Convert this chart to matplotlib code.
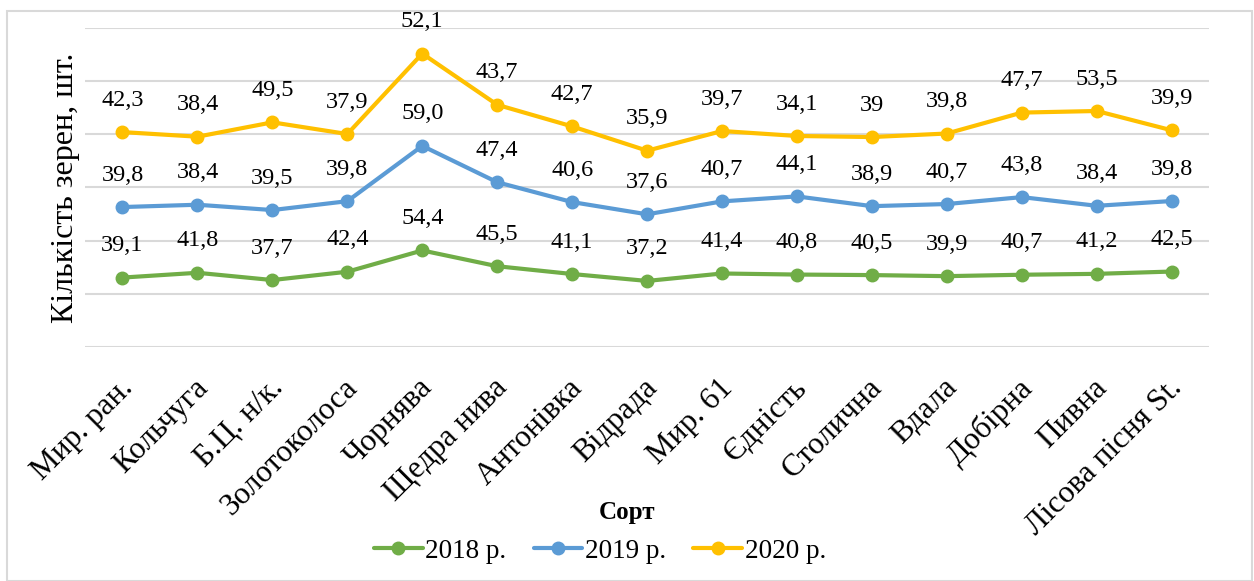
import numpy as np
import matplotlib.pyplot as plt
import matplotlib.transforms as mtransforms
from matplotlib.patches import Rectangle

plt.rcParams['font.family'] = ['Liberation Serif', 'DejaVu Serif']

# varieties (x axis categories)
sorts = ['Мир. ран.', 'Кольчуга', 'Б.Ц. н/к.', 'Золотоколоса', 'Чорнява',
         'Щедра нива', 'Антонівка', 'Відрада', 'Мир. 61', 'Єдність',
         'Столична', 'Вдала', 'Добірна', 'Пивна', 'Лісова пісня St.']

# grains per ear, by year (stacked line chart as in the source)
y2018 = [39.1, 41.8, 37.7, 42.4, 54.4, 45.5, 41.1, 37.2, 41.4, 40.8, 40.5, 39.9, 40.7, 41.2, 42.5]
y2019 = [39.8, 38.4, 39.5, 39.8, 59.0, 47.4, 40.6, 37.6, 40.7, 44.1, 38.9, 40.7, 43.8, 38.4, 39.8]
y2020 = [42.3, 38.4, 49.5, 37.9, 52.1, 43.7, 42.7, 35.9, 39.7, 34.1, 39.0, 39.8, 47.7, 53.5, 39.9]
lab2020 = ['42,3', '38,4', '49,5', '37,9', '52,1', '43,7', '42,7', '35,9', '39,7', '34,1',
           '39', '39,8', '47,7', '53,5', '39,9']

series = [('2018 р.', y2018, '#70AD47'),
          ('2019 р.', y2019, '#5B9BD5'),
          ('2020 р.', y2020, '#FFC000')]

fig = plt.figure(figsize=(12.54, 5.81), dpi=100)
ax = fig.add_axes([0.0678, 0.403, 0.8965, 0.549])

x = np.arange(len(sorts))
base = np.zeros(len(sorts))
for name, vals, col in series:
    cum = base + np.array(vals)
    ax.plot(x, cum, color=col, lw=3, marker='o', ms=9, label=name,
            solid_capstyle='round', zorder=3)
    for i, v in enumerate(vals):
        if name == '2020 р.':
            txt = lab2020[i]
        else:
            txt = ('%.1f' % v).replace('.', ',')
        ax.annotate(txt, (x[i], cum[i]), xytext=(0, 23), textcoords='offset points',
                    ha='center', va='center', fontsize=17.5)
    base = cum

ax.set_xlim(-0.5, len(sorts) - 0.5)
ax.set_ylim(0, 180)
ax.set_yticks(np.arange(0, 181, 30))
ax.set_yticklabels([])
ax.yaxis.grid(True, color='#D9D9D9', lw=1.5)
ax.set_axisbelow(True)
for s in ax.spines.values():
    s.set_visible(False)
ax.tick_params(axis='both', length=0)
ax.set_xticks(x)
ax.set_xticklabels(sorts, rotation=45, ha='right', va='top', rotation_mode='anchor',
                   fontsize=22.5)
ax.tick_params(axis='x', pad=19)
shift = mtransforms.ScaledTranslation(-4 / 100, 0, fig.dpi_scale_trans)
for lbl in ax.get_xticklabels():
    lbl.set_transform(lbl.get_transform() + shift)

ax.set_ylabel('Кількість зерен, шт.', fontsize=23, labelpad=0)
fig.text(0.5, 1 - 512 / 581, 'Сорт', ha='center', va='center', fontsize=18, fontweight='bold')

ax.legend(loc='center', bbox_to_anchor=(600 / 1254, 1 - 551 / 581), bbox_transform=fig.transFigure,
          ncol=3, frameon=False, fontsize=19.5, handlelength=1.8, handletextpad=0.1,
          columnspacing=1.0, borderpad=0)

fig.patches.append(Rectangle((7 / 1254, 0.0), 1245 / 1254, 1 - 11 / 581,
                             transform=fig.transFigure, fill=False,
                             edgecolor='#D9D9D9', lw=1.5))

fig.savefig('out.png', dpi=100)
